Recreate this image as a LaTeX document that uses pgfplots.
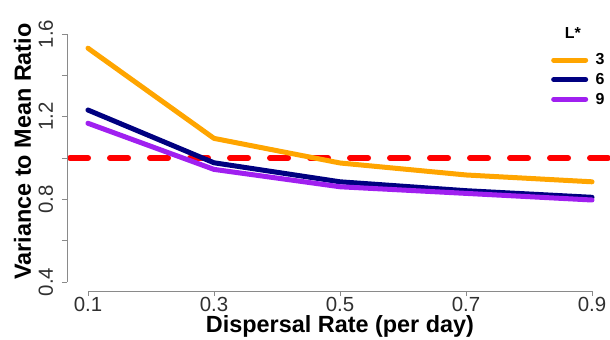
\documentclass[border=0pt]{standalone}
\usepackage{fontspec}
\setmainfont{Liberation Sans}
\usepackage{pgfplots}
\pgfplotsset{compat=1.18}
\definecolor{rorange}{HTML}{FFA500}
\definecolor{rnavy}{HTML}{000080}
\definecolor{rpurple}{HTML}{A020F0}
\definecolor{axgray}{HTML}{8A8A8A}
\definecolor{txtgray}{HTML}{303030}
\begin{document}
\begin{tikzpicture}
\begin{axis}[
  scale only axis,
  width=545bp, height=267bp,
  xmin=0.0667, xmax=0.9317,
  ymin=0.357, ymax=1.648,
  axis lines*=left,
  axis line style={draw=none},
  clip=false,
  xtick={0.1,0.3,0.5,0.7,0.9},
  xticklabels={0.1,0.3,0.5,0.7,0.9},
  ytick={0.4,0.8,1.2,1.6},
  yticklabels={0.4,0.8,1.2,1.6},
  minor ytick={0.6,1.0,1.4},
  tick align=outside,
  major tick length=5bp,
  minor tick length=5bp,
  every tick/.style={axgray, line width=0.8bp},
  every minor tick/.style={axgray, line width=0.8bp},
  ticklabel style={font=\fontsize{20.5}{20.5}\selectfont, text=txtgray, inner sep=0pt},
  xticklabel style={anchor=north, yshift=-1bp},
  yticklabel style={xshift=-9bp, rotate=90, anchor=base},
  xlabel={\textbf{Dispersal Rate (per day)}},
  ylabel={\textbf{Variance to Mean Ratio}},
  label style={font=\fontsize{23.5}{23.5}\selectfont, inner sep=0pt},
  xlabel style={at={(axis cs:0.5,0.154)}, anchor=base},
  ylabel style={at={(axis cs:0.0095,1.031)}, anchor=base},
  legend style={at={(rel axis cs:0.888,0.895)}, anchor=north west, draw=none, fill=none,
    inner sep=0pt, font=\bfseries\fontsize{16}{16}\selectfont, row sep=4bp, column sep=6bp,
    nodes={inner sep=1.5bp, text=black}},
  legend cell align=left,
  legend image code/.code={\draw[#1, line width=5bp, solid] (0bp,0bp) -- (32bp,0bp);},
]
\addplot[forget plot, red, line width=6bp, line cap=round, dash pattern=on 18bp off 22bp]
  coordinates {(0.0715,1.0) (0.9317,1.0)};
\addplot[rorange, line width=5bp, line join=round, line cap=round]
  coordinates {(0.1,1.531) (0.3,1.095) (0.5,0.976) (0.7,0.918) (0.9,0.885)};
\addplot[rnavy, line width=5bp, line join=round, line cap=round]
  coordinates {(0.1,1.232) (0.3,0.977) (0.5,0.885) (0.7,0.842) (0.9,0.810)};
\addplot[rpurple, line width=5bp, line join=round, line cap=round]
  coordinates {(0.1,1.168) (0.3,0.945) (0.5,0.861) (0.7,0.829) (0.9,0.797)};
\legend{3,6,9}
\draw[axgray, line width=0.8bp] (axis cs:0.1,0.357) -- (axis cs:0.9,0.357);
\draw[axgray, line width=0.8bp] (axis cs:0.0667,0.4) -- (axis cs:0.0667,1.6);
\node[font=\bfseries\fontsize{16}{16}\selectfont] at (rel axis cs:0.928,0.966) {L*};
\end{axis}
\pgfresetboundingbox
\path[use as bounding box] (-67bp,-49bp) rectangle (543bp,291bp);
\end{tikzpicture}
\end{document}
